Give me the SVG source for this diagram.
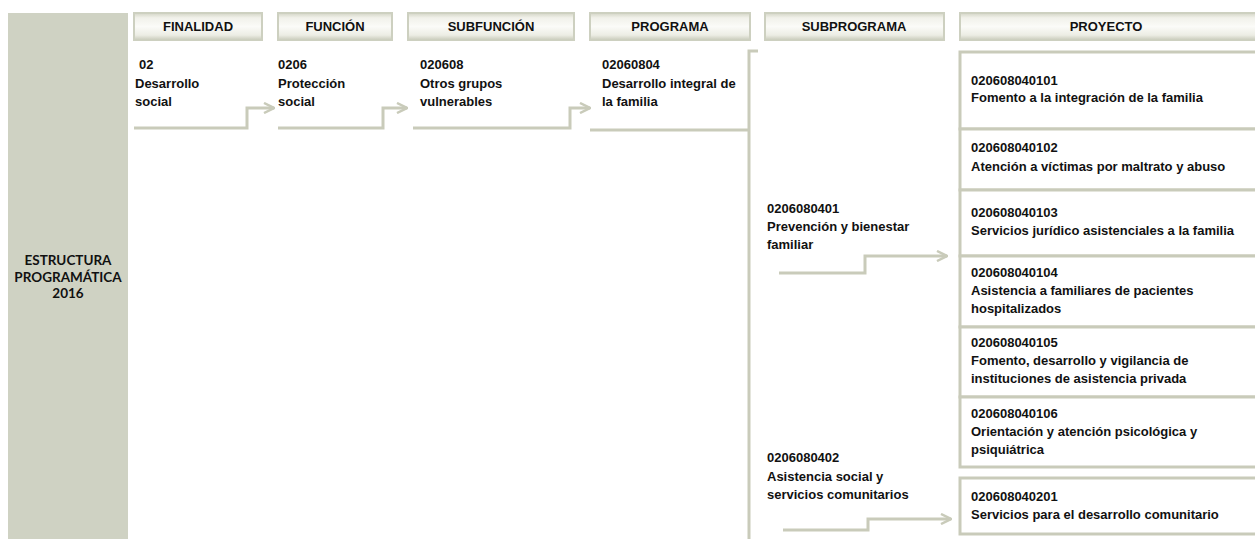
<svg xmlns="http://www.w3.org/2000/svg" width="1255" height="539" viewBox="0 0 1255 539">
<defs>
<linearGradient id="hg" x1="0" y1="0" x2="0" y2="1">
<stop offset="0" stop-color="#d3d5c6"/>
<stop offset="0.18" stop-color="#f1f1ea"/>
<stop offset="0.5" stop-color="#fbfbf8"/>
<stop offset="0.82" stop-color="#ecede4"/>
<stop offset="1" stop-color="#c9cbbb"/>
</linearGradient>
<marker id="ah" viewBox="0 0 12 12" refX="11" refY="6" markerWidth="12" markerHeight="12" markerUnits="userSpaceOnUse" orient="auto">
<path d="M1,1 L11,6 L1,11" fill="none" stroke="#c9cbba" stroke-width="2.5"/>
</marker>
</defs>
<style>
.hd{fill:url(#hg);stroke:#cdd0c0;stroke-width:2}
.ht{font-family:"Liberation Sans",Arial,sans-serif;font-weight:bold;font-size:13px;fill:#111;text-anchor:middle}
.t{font-family:"Liberation Sans",Arial,sans-serif;font-weight:bold;font-size:13px;fill:#111}
.pb{fill:#fff;stroke:#c9cbba;stroke-width:3}
.ln{fill:none;stroke:#c9cbba;stroke-width:3}
.side{font-family:Lato,"Open Sans",sans-serif;font-weight:bold;font-size:13.5px;fill:#111;text-anchor:middle}
</style>
<rect width="1255" height="539" fill="#fff"/>

<g id="estructura">
<rect x="8" y="13" width="120" height="526" fill="#cfd2c3"/>
<text class="side" x="68" y="265">ESTRUCTURA</text>
<text class="side" x="68" y="282">PROGRAMÁTICA</text>
<text class="side" x="68" y="298">2016</text>
</g>

<g id="headers">
<rect class="hd" x="134" y="13" width="128" height="27"/>
<text class="ht" x="198" y="31">FINALIDAD</text>
<rect class="hd" x="278" y="13" width="114" height="27"/>
<text class="ht" x="335" y="31">FUNCIÓN</text>
<rect class="hd" x="408" y="13" width="166" height="27"/>
<text class="ht" x="491" y="31">SUBFUNCIÓN</text>
<rect class="hd" x="590" y="13" width="160" height="27"/>
<text class="ht" x="670" y="31">PROGRAMA</text>
<rect class="hd" x="765" y="13" width="179" height="27"/>
<text class="ht" x="854" y="31">SUBPROGRAMA</text>
<rect class="hd" x="960" y="13" width="300" height="27"/>
<text class="ht" x="1106" y="31">PROYECTO</text>
</g>

<g id="finalidad">
<text class="t" x="139" y="69">02</text>
<text class="t" x="135" y="88">Desarrollo</text>
<text class="t" x="135" y="106">social</text>
</g>
<g id="funcion">
<text class="t" x="278" y="69">0206</text>
<text class="t" x="278" y="88">Protección</text>
<text class="t" x="278" y="106">social</text>
</g>
<g id="subfuncion">
<text class="t" x="420" y="69">020608</text>
<text class="t" x="420" y="88">Otros grupos</text>
<text class="t" x="420" y="106">vulnerables</text>
</g>
<g id="programa">
<text class="t" x="602" y="69">02060804</text>
<text class="t" x="602" y="88">Desarrollo integral de</text>
<text class="t" x="602" y="106">la familia</text>
</g>
<g id="subprograma1">
<text class="t" x="767" y="213">0206080401</text>
<text class="t" x="767" y="231">Prevención y bienestar</text>
<text class="t" x="767" y="249">familiar</text>
</g>
<g id="subprograma2">
<text class="t" x="767" y="462">0206080402</text>
<text class="t" x="767" y="481">Asistencia social y</text>
<text class="t" x="767" y="499">servicios comunitarios</text>
</g>

<g id="p101">
<rect class="pb" x="960" y="52" width="300" height="77"/>
<text class="t" x="971" y="85">020608040101</text>
<text class="t" x="971" y="102">Fomento a la integración de la familia</text>
</g>
<g id="p102">
<rect class="pb" x="960" y="129" width="300" height="61"/>
<text class="t" x="971" y="152">020608040102</text>
<text class="t" x="971" y="171">Atención a víctimas por maltrato y abuso</text>
</g>
<g id="p103">
<rect class="pb" x="960" y="190" width="300" height="66"/>
<text class="t" x="971" y="217">020608040103</text>
<text class="t" x="971" y="235">Servicios jurídico asistenciales a la familia</text>
</g>
<g id="p104">
<rect class="pb" x="960" y="256" width="300" height="71"/>
<text class="t" x="971" y="277">020608040104</text>
<text class="t" x="971" y="295">Asistencia a familiares de pacientes</text>
<text class="t" x="971" y="313">hospitalizados</text>
</g>
<g id="p105">
<rect class="pb" x="960" y="327" width="300" height="70"/>
<text class="t" x="971" y="347">020608040105</text>
<text class="t" x="971" y="365">Fomento, desarrollo y vigilancia de</text>
<text class="t" x="971" y="383">instituciones de asistencia privada</text>
</g>
<g id="p106">
<rect class="pb" x="960" y="397" width="300" height="70"/>
<text class="t" x="971" y="418">020608040106</text>
<text class="t" x="971" y="436">Orientación y atención psicológica y</text>
<text class="t" x="971" y="454">psiquiátrica</text>
</g>
<g id="p201">
<rect class="pb" x="960" y="478" width="300" height="56"/>
<text class="t" x="971" y="501">020608040201</text>
<text class="t" x="971" y="519">Servicios para el desarrollo comunitario</text>
</g>

<g id="connectors">
<path class="ln" d="M134,128 H247 V108 H274" marker-end="url(#ah)"/>
<path class="ln" d="M278,128 H383 V108 H407" marker-end="url(#ah)"/>
<path class="ln" d="M413,128 H570 V108 H590" marker-end="url(#ah)"/>
<path class="ln" d="M590,130 H749"/>
<path class="ln" d="M758,51 H749 V539"/>
<path class="ln" d="M779,273 H865 V256 H947" marker-end="url(#ah)"/>
<path class="ln" d="M783,530 H868 V519 H951" marker-end="url(#ah)"/>
</g>
</svg>
